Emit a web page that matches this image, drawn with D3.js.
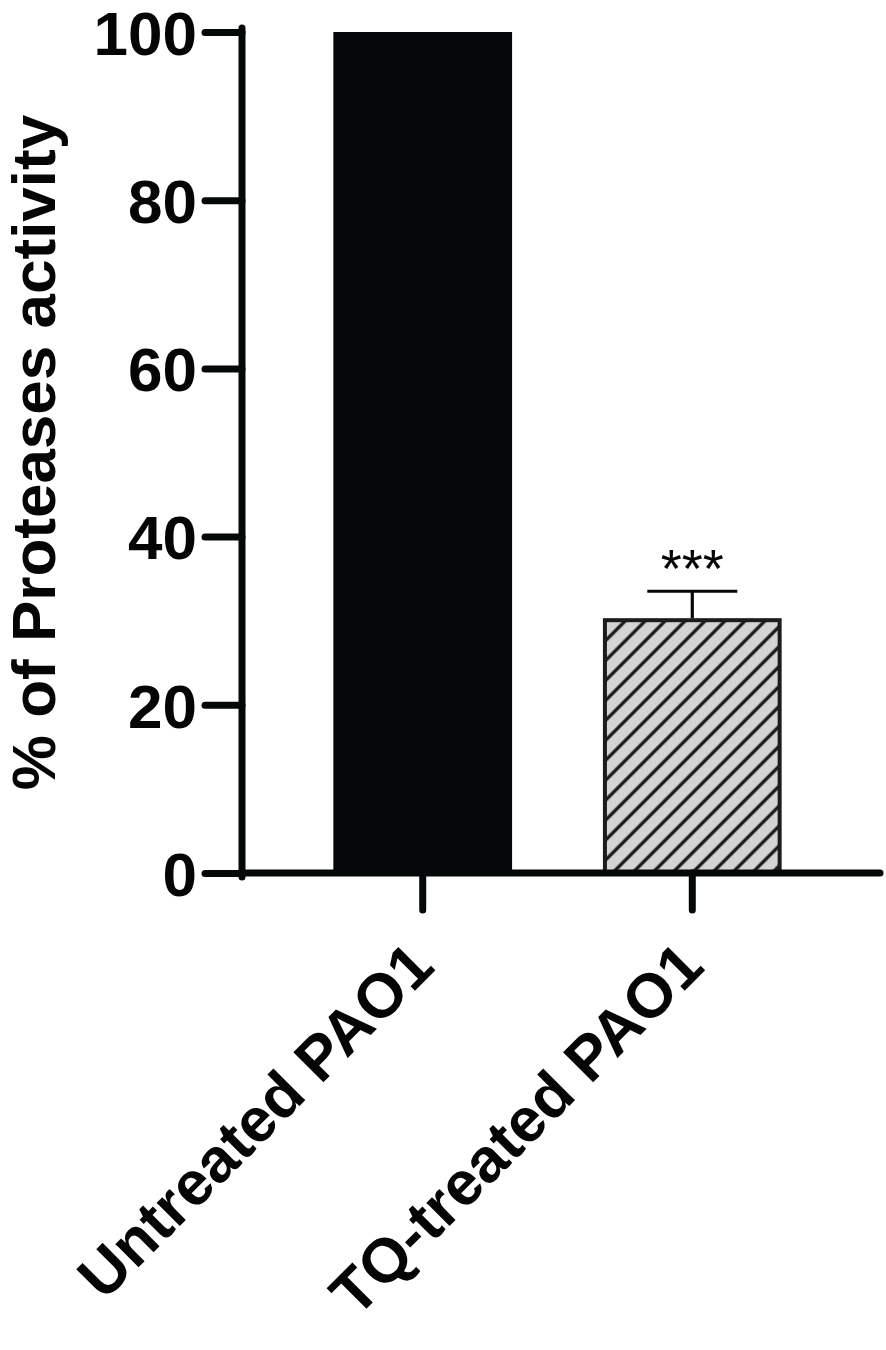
<!DOCTYPE html>
<html>
<head>
<meta charset="utf-8">
<script src="https://cdn.jsdelivr.net/npm/d3@7"></script>
<style>
  body { margin: 0; background: #ffffff; }
  svg text { font-family: "Liberation Sans", Arial, sans-serif; fill: #050505; }
</style>
</head>
<body>
<div id="chart"></div>
<script>
"use strict";

// values
var categories = ["Untreated PAO1", "TQ-treated PAO1"];
var means = [100, 30.3];
var errors = [0, 3.2];
var stars = ["", "***"];
var yTicks = [0, 20, 40, 60, 80, 100];
var yLabel = "% of Proteases activity";

var INK = "#050808";
var HATCH_FILL = "#d4d4d4";
var HATCH_LINE = "#1c1c1c";
var AXIS_WIDTH = 7;

function main() {
  var width = 886;
  var height = 1350;

  var svg = d3.select("#chart")
    .append("svg")
    .attr("width", width)
    .attr("height", height);

  // diagonal hatch for the treated bar
  var defs = svg.append("defs");
  var pattern = defs.append("pattern")
    .attr("id", "hatch")
    .attr("patternUnits", "userSpaceOnUse")
    .attr("width", 14.1)
    .attr("height", 14.1)
    .attr("patternTransform", "rotate(45)");
  pattern.append("rect")
    .attr("width", 14.1)
    .attr("height", 14.1)
    .attr("fill", HATCH_FILL);
  pattern.append("line")
    .attr("x1", 7).attr("y1", 0)
    .attr("x2", 7).attr("y2", 14.1)
    .attr("stroke", HATCH_LINE)
    .attr("stroke-width", 3.4);

  var axisX = 242;
  var axisRight = 880;

  var y = d3.scaleLinear()
    .domain([0, 100])
    .range([873, 32]);

  var x = d3.scaleBand()
    .domain(categories)
    .range([239, 876])
    .paddingInner(0.337)
    .paddingOuter(0.35);

  var rows = categories.map(function(c, i) {
    return { name: c, mean: means[i], err: errors[i], star: stars[i], idx: i };
  });

  // bars
  svg.selectAll(".bar")
    .data(rows)
    .enter()
    .append("rect")
    .attr("class", "bar")
    .attr("x", function(d) { return x(d.name) + (d.idx ? 2 : 0); })
    .attr("y", function(d) { return y(d.mean) + (d.idx ? 2 : 0); })
    .attr("width", function(d) { return x.bandwidth() - (d.idx ? 4 : 0); })
    .attr("height", function(d) { return y(0) - y(d.mean) - (d.idx ? 2 : 0); })
    .attr("fill", function(d) { return d.idx ? "url(#hatch)" : INK; })
    .attr("stroke", function(d) { return d.idx ? HATCH_LINE : "none"; })
    .attr("stroke-width", 4);

  // error bars (upper half only, like the original)
  var errRows = rows.filter(function(d) { return d.err > 0; });
  var errG = svg.selectAll(".err")
    .data(errRows)
    .enter()
    .append("g")
    .attr("class", "err")
    .attr("stroke", INK)
    .attr("stroke-width", 3.2);
  errG.append("line")
    .attr("x1", function(d) { return x(d.name) + x.bandwidth() / 2; })
    .attr("x2", function(d) { return x(d.name) + x.bandwidth() / 2; })
    .attr("y1", function(d) { return y(d.mean); })
    .attr("y2", function(d) { return y(d.mean + d.err); });
  errG.append("line")
    .attr("x1", function(d) { return x(d.name) + x.bandwidth() / 2 - 45; })
    .attr("x2", function(d) { return x(d.name) + x.bandwidth() / 2 + 45; })
    .attr("y1", function(d) { return y(d.mean + d.err); })
    .attr("y2", function(d) { return y(d.mean + d.err); });

  // significance stars
  svg.selectAll(".star")
    .data(errRows)
    .enter()
    .append("text")
    .attr("class", "star")
    .attr("x", function(d) { return x(d.name) + x.bandwidth() / 2; })
    .attr("y", function(d) { return y(d.mean + d.err) - 4; })
    .attr("text-anchor", "middle")
    .attr("font-size", 54)
    .text(function(d) { return d.star; });

  // y axis
  var yAxis = d3.axisLeft(y)
    .tickValues(yTicks)
    .tickSize(37)
    .tickSizeOuter(0)
    .tickPadding(8);

  var gy = svg.append("g")
    .attr("transform", "translate(" + axisX + ",0)")
    .call(yAxis);
  gy.select(".domain").remove();
  gy.selectAll(".tick line")
    .attr("stroke", INK)
    .attr("stroke-width", AXIS_WIDTH)
    .attr("stroke-linecap", "round");
  gy.selectAll(".tick text")
    .attr("font-size", 62)
    .attr("font-weight", "bold")
    .attr("dy", "0.36em");

  // x axis ticks below the baseline
  var xAxis = d3.axisBottom(x)
    .tickSize(37)
    .tickSizeOuter(0)
    .tickFormat("");
  var gx = svg.append("g")
    .attr("transform", "translate(0," + y(0) + ")")
    .call(xAxis);
  gx.select(".domain").remove();
  gx.selectAll(".tick line")
    .attr("stroke", INK)
    .attr("stroke-width", AXIS_WIDTH)
    .attr("stroke-linecap", "round");

  // axis lines drawn on top
  svg.append("line")
    .attr("x1", axisX).attr("x2", axisX)
    .attr("y1", y(100) - 4).attr("y2", y(0) + 4)
    .attr("stroke", INK)
    .attr("stroke-width", AXIS_WIDTH)
    .attr("stroke-linecap", "round");
  svg.append("line")
    .attr("x1", axisX).attr("x2", axisRight)
    .attr("y1", y(0)).attr("y2", y(0))
    .attr("stroke", INK)
    .attr("stroke-width", AXIS_WIDTH)
    .attr("stroke-linecap", "round");

  // rotated category labels
  svg.selectAll(".cat")
    .data(rows)
    .enter()
    .append("text")
    .attr("class", "cat")
    .attr("text-anchor", "end")
    .attr("font-size", 62)
    .attr("font-weight", "bold")
    .attr("transform", function(d) {
      var cx = x(d.name) + x.bandwidth() / 2 + 14;
      return "translate(" + cx + "," + (y(0) + 96) + ") rotate(-45)";
    })
    .text(function(d) { return d.name; });

  // y axis title
  svg.append("text")
    .attr("text-anchor", "middle")
    .attr("font-size", 62)
    .attr("font-weight", "bold")
    .attr("transform", "translate(55," + ((y(0) + y(100)) / 2) + ") rotate(-90)")
    .text(yLabel);
}

main();
</script>
</body>
</html>
